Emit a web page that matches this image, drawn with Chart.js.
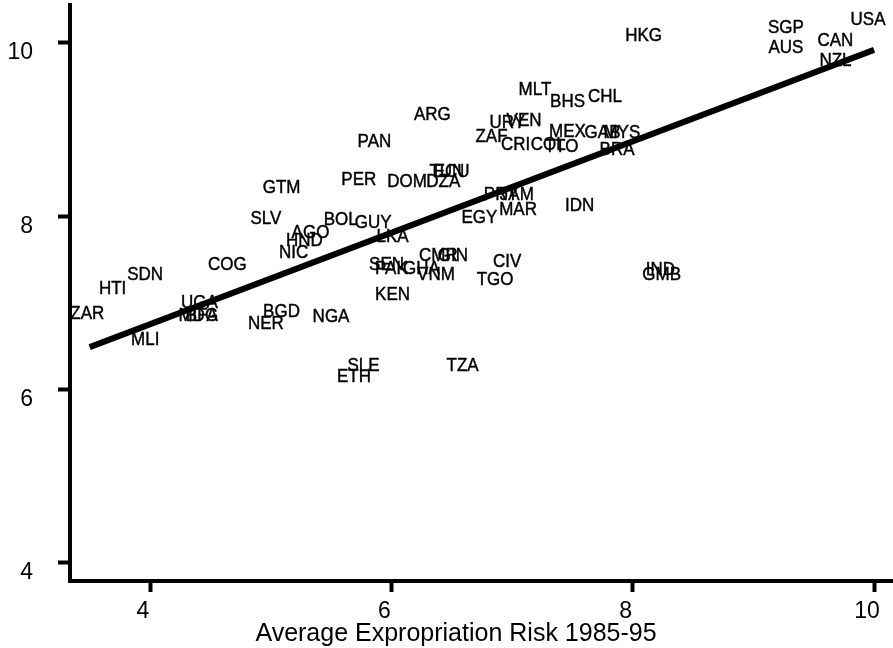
<!DOCTYPE html>
<html>
<head>
<meta charset="utf-8">
<title>Expropriation Risk vs GDP</title>
<script src="https://cdn.jsdelivr.net/npm/chart.js@4.4.0/dist/chart.umd.min.js"></script>
<style>
    html, body { margin: 0; padding: 0; background: #fff; }
    #wrap { width: 893px; height: 648px; }
</style>
</head>
<body>
<div id="wrap"><canvas id="riskChart" width="893" height="648"></canvas></div>
<script>
// --- Data ---
const countries = ['USA', 'SGP', 'AUS', 'CAN', 'NZL', 'HKG', 'MLT', 'BHS', 'CHL', 'ARG',
    'PAN', 'URY', 'VEN', 'ZAF', 'CRI', 'COL', 'TTO', 'MEX', 'GAB', 'MYS',
    'BRA', 'IDN', 'TUN', 'ECU', 'DZA', 'DOM', 'PER', 'GTM', 'PRY', 'JAM',
    'MAR', 'EGY', 'SLV', 'BOL', 'GUY', 'LKA', 'AGO', 'HND', 'NIC', 'COG',
    'SDN', 'HTI', 'ZAR', 'UGA', 'MDG', 'BFA', 'MLI', 'BGD', 'NER', 'NGA',
    'SEN', 'PAK', 'GHA', 'CMR', 'GIN', 'VNM', 'CIV', 'TGO', 'KEN', 'IND',
    'GMB', 'SLE', 'ETH', 'TZA'];

const expropRisk = [9.95, 9.27, 9.27, 9.68, 9.68, 8.09, 7.19, 7.46, 7.77, 6.34,
    5.86, 6.96, 7.10, 6.83, 7.03, 7.30, 7.41, 7.46, 7.75, 7.91,
    7.87, 7.56, 6.46, 6.50, 6.43, 6.13, 5.73, 5.09, 6.91, 7.04,
    7.05, 6.73, 4.96, 5.58, 5.85, 6.01, 5.33, 5.28, 5.19, 4.64,
    3.96, 3.69, 3.48, 4.41, 4.40, 4.43, 3.96, 5.09, 4.96, 5.50,
    5.96, 6.00, 6.25, 6.39, 6.51, 6.37, 6.96, 6.86, 6.01, 8.23,
    8.24, 5.77, 5.69, 6.59];

const logGdp = [10.27, 10.18, 9.94, 10.03, 9.80, 10.08, 9.46, 9.32, 9.38, 9.17,
    8.86, 9.08, 9.10, 8.92, 8.82, 8.82, 8.80, 8.97, 8.96, 8.96,
    8.77, 8.12, 8.51, 8.51, 8.40, 8.40, 8.42, 8.33, 8.25, 8.25,
    8.07, 7.98, 7.97, 7.96, 7.93, 7.76, 7.81, 7.72, 7.58, 7.44,
    7.32, 7.16, 6.88, 7.00, 6.85, 6.85, 6.57, 6.90, 6.76, 6.84,
    7.44, 7.40, 7.40, 7.55, 7.55, 7.32, 7.47, 7.27, 7.09, 7.38,
    7.32, 6.28, 6.15, 6.28];

// fitted line end points
const fitX = [3.5, 10];
const fitY = [6.49, 9.92];

const xTicks = [4, 6, 8, 10];
const yTicks = [4, 6, 8, 10];

const FONT = '"Liberation Sans", Arial, Helvetica, sans-serif';

document.addEventListener('DOMContentLoaded', () => {

    // country codes are written at each point, under the fit line
    const codeLabels = {
        id: 'codeLabels',
        beforeDatasetsDraw(chart) {
            const meta = chart.getDatasetMeta(1);
            const ctx = chart.ctx;
            ctx.save();
            ctx.font = '17px ' + FONT;
            ctx.fillStyle = '#000';
            ctx.strokeStyle = '#000';
            ctx.lineWidth = 0.4;
            ctx.textAlign = 'center';
            ctx.textBaseline = 'middle';
            meta.data.forEach((pt, i) => {
                // original lettering is a little taller than wide
                ctx.save();
                ctx.translate(pt.x, pt.y);
                ctx.scale(1, 1.12);
                ctx.fillText(countries[i], 0, 0);
                ctx.strokeText(countries[i], 0, 0);
                ctx.restore();
            });
            ctx.restore();
        }
    };

    // x axis title sits a bit left of centre in the original
    const xTitle = {
        id: 'xTitle',
        afterDraw(chart) {
            const ctx = chart.ctx;
            ctx.save();
            ctx.font = '25px ' + FONT;
            ctx.fillStyle = '#000';
            ctx.textAlign = 'center';
            ctx.textBaseline = 'middle';
            ctx.fillText('Average Expropriation Risk 1985-95', 456, 634);
            ctx.restore();
        }
    };

    const ctx = document.getElementById('riskChart').getContext('2d');
    new Chart(ctx, {
        type: 'scatter',
        data: {
            datasets: [{
                type: 'line',
                label: 'Fit',
                data: fitX.map((x, i) => ({ x: x, y: fitY[i] })),
                borderColor: '#000',
                borderWidth: 6,
                borderCapStyle: 'butt',
                pointRadius: 0,
                fill: false
            }, {
                label: 'Countries',
                data: expropRisk.map((x, i) => ({ x: x, y: logGdp[i] })),
                pointRadius: 0,
                backgroundColor: 'rgba(0,0,0,0)',
                borderColor: 'rgba(0,0,0,0)'
            }]
        },
        options: {
            responsive: false,
            animation: false,
            layout: { padding: { top: 5, right: 0, left: 0, bottom: 0 } },
            plugins: {
                legend: { display: false },
                tooltip: { enabled: false }
            },
            scales: {
                x: {
                    type: 'linear',
                    min: 3.337,
                    max: 10.157,
                    afterBuildTicks: scale => { scale.ticks = xTicks.map(v => ({ value: v })); },
                    afterFit: scale => {
                        scale.height = 67;
                        scale.paddingLeft = 0;
                        scale.paddingRight = 0;
                    },
                    border: { display: true, color: '#000', width: 4 },
                    grid: { drawOnChartArea: false, drawTicks: true, tickLength: 11, tickWidth: 4, tickColor: '#000' },
                    ticks: {
                        color: '#000',
                        font: { family: FONT, size: 23 },
                        padding: 6,
                        labelOffset: -7,
                        maxRotation: 0
                    }
                },
                y: {
                    type: 'linear',
                    min: 3.792,
                    max: 10.438,
                    afterBuildTicks: scale => { scale.ticks = yTicks.map(v => ({ value: v })); },
                    afterFit: scale => {
                        scale.width = 70;
                        scale.paddingTop = 0;
                        scale.paddingBottom = 0;
                    },
                    border: { display: true, color: '#000', width: 4 },
                    grid: { drawOnChartArea: false, drawTicks: true, tickLength: 12, tickWidth: 4, tickColor: '#000' },
                    ticks: {
                        color: '#000',
                        font: { family: FONT, size: 23 },
                        padding: 25,
                        labelOffset: 10
                    }
                }
            }
        },
        plugins: [codeLabels, xTitle]
    });
});
</script>
</body>
</html>
